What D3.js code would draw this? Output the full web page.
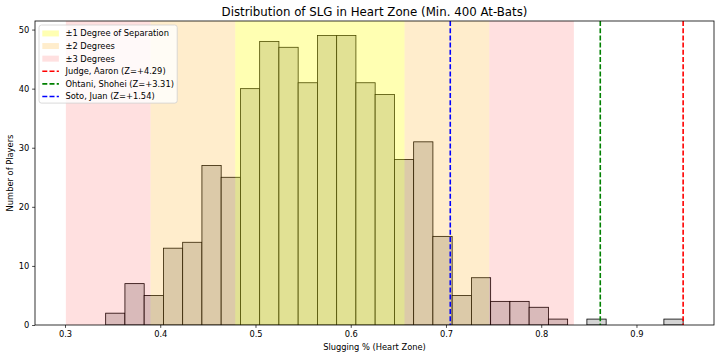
<!DOCTYPE html>
<html>
<head>
<meta charset="utf-8">
<script src="https://cdn.jsdelivr.net/npm/d3@7"></script>
<style>
  html, body { margin: 0; padding: 0; background: #fff; }
  svg { display: block; font-family: "DejaVu Sans", sans-serif; }
</style>
</head>
<body>
<svg id="chart" width="720" height="357"></svg>
<script>
// ---- data ----
const binCounts = [2, 7, 5, 13, 14, 27, 25, 40, 48, 47, 41, 49, 49, 41, 39, 28, 31, 15, 5, 8, 4, 4, 3, 1, 0, 1, 0, 0, 0, 1];
const slgMin = 0.3427;   // lowest SLG (left edge of first bin)
const slgMax = 0.949;    // highest SLG (right edge of last bin)
const slgMean = 0.5676;
const slgSd = 0.0889;
const players = ["Judge, Aaron", "Ohtani, Shohei", "Soto, Juan"];
const playerSlg = [0.949, 0.862, 0.7045];
const playerZ = ["+4.29", "+3.31", "+1.54"];
const playerColors = ["red", "green", "blue"];
const xTicks = [0.3, 0.4, 0.5, 0.6, 0.7, 0.8, 0.9];
const yTicks = [0, 10, 20, 30, 40, 50];
const bandLabels = ["\u00b11 Degree of Separation", "\u00b12 Degrees", "\u00b13 Degrees"];

// ---- layout ----
const svg = d3.select("#chart");
const L = 35, R = 714, T = 21, B = 325;
const fs = 8.3;

const dataLo = slgMean - 3 * slgSd, dataHi = slgMax;
const pad = (dataHi - dataLo) * 0.05;
const x = d3.scaleLinear().domain([dataLo - pad, dataHi + pad]).range([L, R]);
const yMax = d3.max(binCounts) * 1.05;
const y = d3.scaleLinear().domain([0, yMax]).range([B, T]);

const binW = (slgMax - slgMin) / binCounts.length;
const bins = binCounts.map((c, i) => ({ x0: slgMin + i * binW, x1: slgMin + (i + 1) * binW, c }));

svg.append("defs").append("clipPath").attr("id", "clip")
  .append("rect").attr("x", L).attr("y", T).attr("width", R - L).attr("height", B - T);
const plot = svg.append("g").attr("clip-path", "url(#clip)");

// histogram bars
plot.selectAll("rect.bar").data(bins.filter(b => b.c > 0)).enter().append("rect")
  .attr("class", "bar")
  .attr("x", d => x(d.x0))
  .attr("width", d => x(d.x1) - x(d.x0))
  .attr("y", d => y(d.c))
  .attr("height", d => y(0) - y(d.c))
  .attr("fill", "#d4d4d4")
  .attr("stroke", "#000")
  .attr("stroke-width", 0.8);

// bands drawn over bars
const bands = [
  { lo: slgMean - 3 * slgSd, hi: slgMean - 2 * slgSd, color: "red", op: 0.12 },
  { lo: slgMean + 2 * slgSd, hi: slgMean + 3 * slgSd, color: "red", op: 0.12 },
  { lo: slgMean - 2 * slgSd, hi: slgMean - 1 * slgSd, color: "orange", op: 0.2 },
  { lo: slgMean + 1 * slgSd, hi: slgMean + 2 * slgSd, color: "orange", op: 0.2 },
  { lo: slgMean - 1 * slgSd, hi: slgMean + 1 * slgSd, color: "yellow", op: 0.3 }
];
plot.selectAll("rect.band").data(bands).enter().append("rect")
  .attr("class", "band")
  .attr("x", d => x(d.lo))
  .attr("width", d => x(d.hi) - x(d.lo))
  .attr("y", T).attr("height", B - T)
  .attr("fill", d => d.color)
  .attr("fill-opacity", d => d.op);

// player lines
plot.selectAll("line.player").data(playerSlg).enter().append("line")
  .attr("class", "player")
  .attr("x1", d => x(d)).attr("x2", d => x(d))
  .attr("y1", T).attr("y2", B)
  .attr("stroke", (d, i) => playerColors[i])
  .attr("stroke-width", 1.6)
  .attr("stroke-dasharray", "5,2.2");

// axes
const xAxis = d3.axisBottom(x).tickValues(xTicks).tickFormat(d3.format(".1f")).tickSize(2.9).tickPadding(2.9);
const gx = svg.append("g").attr("transform", `translate(0,${B})`).call(xAxis);
const yAxis = d3.axisLeft(y).tickValues(yTicks).tickFormat(d3.format("d")).tickSize(2.9).tickPadding(2.9);
const gy = svg.append("g").attr("transform", `translate(${L},0)`).call(yAxis);
[gx, gy].forEach(g => {
  g.select(".domain").remove();
  g.selectAll("line").attr("stroke", "#000").attr("stroke-width", 0.7);
  g.selectAll("text").attr("fill", "#000").style("font-size", fs + "px").style("font-family", "DejaVu Sans");
});

// frame
svg.append("rect").attr("x", L).attr("y", T).attr("width", R - L).attr("height", B - T)
  .attr("fill", "none").attr("stroke", "#000").attr("stroke-width", 0.8);

// title and labels
svg.append("text").attr("x", (L + R) / 2).attr("y", 15.8).attr("text-anchor", "middle")
  .style("font-size", "11.8px").text("Distribution of SLG in Heart Zone (Min. 400 At-Bats)");
svg.append("text").attr("x", (L + R) / 2).attr("y", 349.5).attr("text-anchor", "middle")
  .style("font-size", fs + "px").text("Slugging % (Heart Zone)");
svg.append("text").attr("transform", `translate(13,${(T + B) / 2}) rotate(-90)`).attr("text-anchor", "middle")
  .style("font-size", fs + "px").text("Number of Players");

// legend
const legItems = [
  { type: "patch", color: "yellow", op: 0.3, label: bandLabels[0] },
  { type: "patch", color: "orange", op: 0.2, label: bandLabels[1] },
  { type: "patch", color: "red", op: 0.12, label: bandLabels[2] },
  ...players.map((p, i) => ({ type: "line", color: playerColors[i], label: `${p} (Z=${playerZ[i]})` }))
];
const lgX = 39, lgY = 25, rowH = 12.6;
const lg = svg.append("g");
const lgBox = lg.append("rect").attr("x", lgX).attr("y", lgY).attr("rx", 2.5).attr("ry", 2.5)
  .attr("fill", "#fff").attr("fill-opacity", 0.8).attr("stroke", "#d0d0d0").attr("stroke-width", 0.8);
let maxW = 0;
legItems.forEach((it, i) => {
  const cy = lgY + 3.3 + fs / 2 + 1 + i * rowH;
  if (it.type === "patch") {
    lg.append("rect").attr("x", 42.3).attr("y", cy - 3).attr("width", 16.6).attr("height", 6)
      .attr("fill", it.color).attr("fill-opacity", it.op);
  } else {
    lg.append("line").attr("x1", 42.3).attr("x2", 58.9).attr("y1", cy).attr("y2", cy)
      .attr("stroke", it.color).attr("stroke-width", 1.6).attr("stroke-dasharray", "5,2.2");
  }
  const t = lg.append("text").attr("x", 65.5).attr("y", cy + 3).style("font-size", fs + "px").text(it.label);
  maxW = Math.max(maxW, t.node().getComputedTextLength());
});
lgBox.attr("width", 65.5 + maxW + 3.3 - lgX).attr("height", legItems.length * rowH + 2.5);
</script>
</body>
</html>
